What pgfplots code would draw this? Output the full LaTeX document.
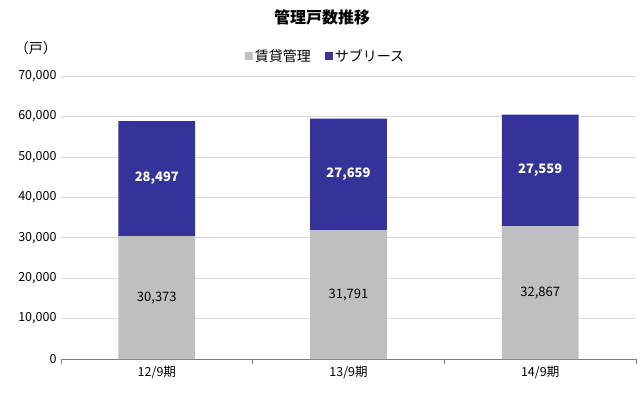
\documentclass[border=0pt]{standalone}
\usepackage{pgfplots}
\pgfplotsset{compat=1.18}
\usepackage{fontspec}
\setmainfont{Noto Sans CJK JP}
\definecolor{cgray}{HTML}{BFBFBF}
\definecolor{cnavy}{HTML}{333399}
\definecolor{cgrid}{HTML}{D9D9D9}
\definecolor{caxis}{HTML}{808080}
\pgfplotsset{
  common/.style={
    scale only axis, width=575pt, height=283pt,
    at={(61pt,33pt)}, anchor=south west,
    xmin=-0.5, xmax=2.5, ymin=0, ymax=70000,
  },
}
\begin{document}
\begin{tikzpicture}
\useasboundingbox (0,0) rectangle (643pt,392pt);
\begin{axis}[common,
  ybar stacked, bar width=0.4,
  axis y line*=left, axis x line*=bottom,
  y axis line style={draw=none},
  x axis line style={caxis, line width=0.9pt},
  xtick={0,1,2}, xticklabels={12/9期,13/9期,14/9期},
  minor xtick={-0.5,0.5,1.5,2.5},
  major tick length=0pt, minor tick length=5pt, tick align=outside,
  minor x tick style={caxis, line width=0.9pt},
  ytick={0,10000,...,70000},
  scaled y ticks=false,
  yticklabel style={/pgf/number format/fixed, /pgf/number format/1000 sep={,}, xshift=-1pt},
  ymajorgrids, grid style={cgrid, line width=0.6pt},
  /pgf/number format/.cd, 1000 sep={,}, assume math mode=true,
  /pgfplots/.cd,
  tick label style={font=\fontsize{12.5}{14}\selectfont},
  xticklabel style={yshift=-4pt},
  legend style={at={(0.46,1)}, anchor=south, yshift=9pt, draw=none,
    legend columns=2, font=\fontsize{14}{16}\selectfont,
    /tikz/every even column/.append style={column sep=12pt}},
  legend image code/.code={\fill[#1,draw=none] (0pt,-4pt) rectangle (8pt,4pt);},
]
\addplot[fill=cgray, draw=none] coordinates {(0,30373) (1,31791) (2,32867)};
\addlegendentry{賃貸管理}
\addplot[fill=cnavy, draw=none] coordinates {(0,28497) (1,27659) (2,27559)};
\addlegendentry{サブリース}
\end{axis}
\begin{axis}[common, hide axis,
  /pgf/number format/.cd, fixed, 1000 sep={,}, assume math mode=true, /pgfplots/.cd]
\addplot[draw=none, mark=none, nodes near coords, point meta=explicit,
  nodes near coords align=center,
  every node near coord/.append style={font=\fontsize{13}{15}\selectfont, black}]
  table[meta=v] {
  x y v
  0 15186 30373
  1 15896 31791
  2 16434 32867
};
\addplot[draw=none, mark=none, nodes near coords, point meta=explicit,
  nodes near coords align=center,
  every node near coord/.append style={font=\bfseries\fontsize{13}{15}\selectfont, white}]
  table[meta=v] {
  x y v
  0 44621 28497
  1 45620 27659
  2 46646 27559
};
\end{axis}
\node[font=\bfseries\fontsize{16}{18}\selectfont] at (322pt,375pt) {管理戸数推移};
\node[font=\fontsize{14}{16}\selectfont] at (36pt,344pt) {（戸）};
\end{tikzpicture}
\end{document}
